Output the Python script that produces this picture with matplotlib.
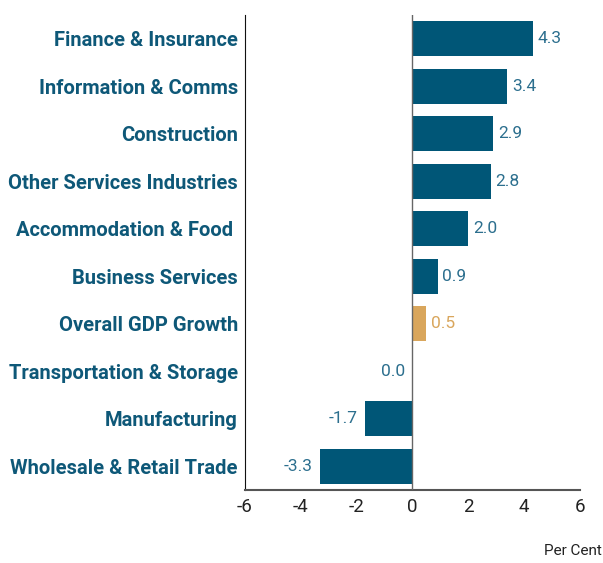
import matplotlib.pyplot as plt

# Datos (de abajo hacia arriba)
categorias = ['Wholesale & Retail Trade', 'Manufacturing', 'Transportation & Storage',
              'Overall GDP Growth', 'Business Services', 'Accommodation & Food ',
              'Other Services Industries', 'Construction', 'Information & Comms',
              'Finance & Insurance']
valores = [-3.3, -1.7, 0.0, 0.5, 0.9, 2.0, 2.8, 2.9, 3.4, 4.3]
destacado = 'Overall GDP Growth'
ticks_x = [-6, -4, -2, 0, 2, 4, 6]

azul = '#005677'
dorado = '#D9A65C'
texto_azul = '#0E5878'
etiqueta_azul = '#2C6F8E'

plt.rcParams['font.family'] = ['Roboto', 'DejaVu Sans']

fig = plt.figure(figsize=(6.03, 5.63), dpi=100)
ax = fig.add_axes([0.406, 0.130, 0.556, 0.843])

colores = [dorado if c == destacado else azul for c in categorias]
ys = range(len(categorias))
ax.barh(ys, valores, height=0.74, color=colores, zorder=2)

for y, v, c in zip(ys, valores, categorias):
    col = dorado if c == destacado else etiqueta_azul
    if v > 0:
        ax.text(v + 0.17, y, f'{v:.1f}', va='center', ha='left', fontsize=12.5, color=col)
    else:
        ax.text(v - 0.28, y, f'{v:.1f}', va='center', ha='right', fontsize=12.5, color=col)

ax.axvline(0, color='#666666', lw=1, zorder=3)
ax.set_xlim(-6, 6)
ax.set_ylim(-0.5, 9.5)
ax.set_xticks(ticks_x)
ax.set_xticklabels([str(t) for t in ticks_x], fontsize=13.5, color='#222222')
ax.set_yticks(list(ys))
ax.set_yticklabels(categorias, fontsize=14.5, fontweight='bold', color=texto_azul)
ax.tick_params(axis='both', length=0, pad=5)
ax.tick_params(axis='x', pad=6)

ax.spines['top'].set_visible(False)
ax.spines['right'].set_visible(False)
ax.spines['left'].set_color('#111111')
ax.spines['bottom'].set_color('#555555')
ax.spines['bottom'].set_linewidth(1.5)

fig.text(0.998, 0.008, 'Per Cent', ha='right', va='bottom', fontsize=11, color='#222222')

fig.savefig('out.png', dpi=100)
